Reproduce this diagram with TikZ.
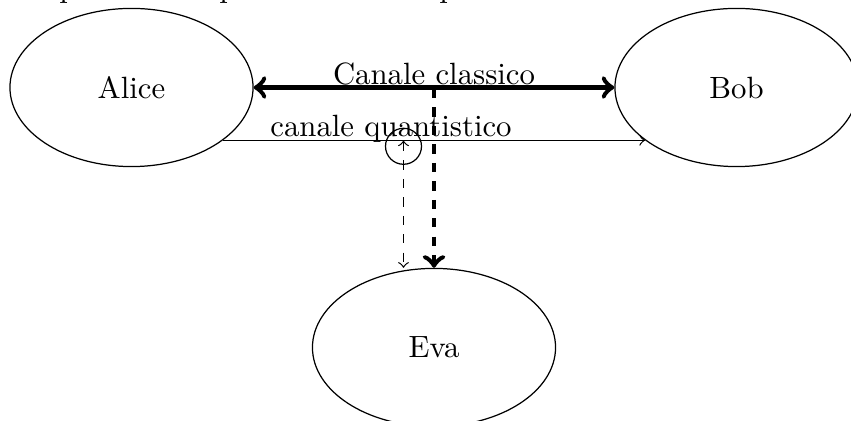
\documentclass[tikz,border=0pt]{standalone}
\usetikzlibrary{shapes.geometric}
\begin{document}
\begin{tikzpicture}[x=0.325pt,y=-0.325pt,
  party/.style={draw,ellipse,minimum width=79pt,minimum height=51.4pt,inner sep=0pt},
  lbl/.style={anchor=base,inner sep=0pt},
  classic/.style={ultra thick,<->},
  spy/.style={ultra thick,dashed,->},
  quantum/.style={->},
  tap/.style={dashed,<->}]
\useasboundingbox (0,0) rectangle (851,421);
\clip (0,0) rectangle (851,421);
\node[anchor=base west,inner sep=0pt] (p1) at (58.8,-2) {p};
\node[anchor=base west,inner sep=0pt] (p2) at (218.8,-2) {p};
\node[anchor=base west,inner sep=0pt] (p3) at (438.8,-2) {p};
\node[party] (Alice) at (131.5,87.5) {Alice};
\node[party] (Bob) at (736.5,87.5) {Bob};
\node[party] (Eva) at (434,347.5) {Eva};
\draw[classic] (Alice) -- (Bob);
\node[lbl] (cl) at (434,85) {Canale classico};
\draw[quantum] (Alice.-30) -- (Bob.-150);
\node[lbl] (ql) at (391,137) {canale quantistico};
\coordinate (c) at (434,89);
\draw[spy] (c) -- (c |- Eva.north);
\coordinate (q) at (403.5,140.5);
\node[draw,circle,minimum size=11.7pt,inner sep=0pt] (tapc) at (403.5,146.3) {};
\draw[tap] (q) -- (q |- Eva.north);
\end{tikzpicture}
\end{document}
